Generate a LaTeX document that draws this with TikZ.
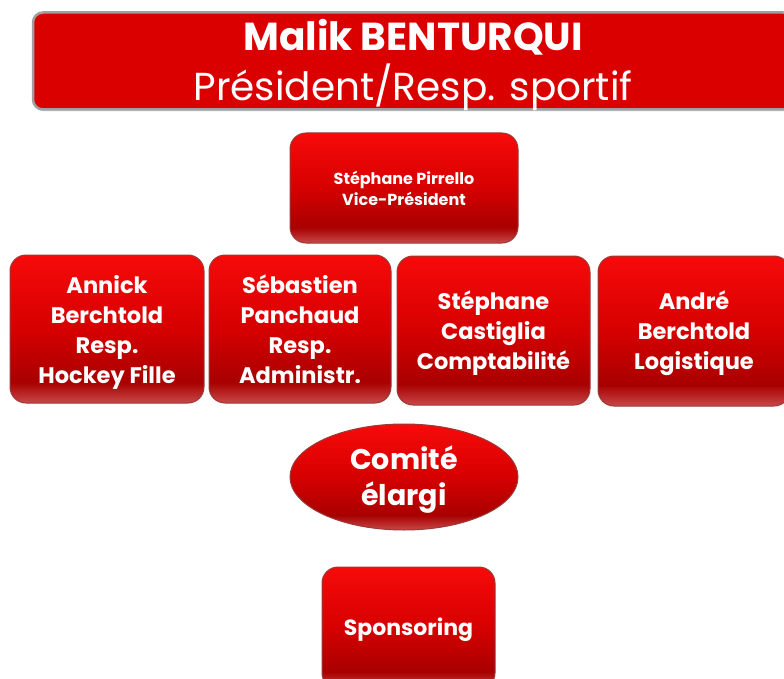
\documentclass[tikz,border=0pt]{standalone}
\usepackage{fontspec}
\setmainfont{Poppins}
\usetikzlibrary{shadows,shapes.geometric}
\definecolor{rtop}{HTML}{F70A0A}
\definecolor{rmid}{HTML}{D60000}
\definecolor{rdark}{HTML}{A80000}
\definecolor{rglow}{HTML}{C84848}
\definecolor{rborder}{HTML}{9A3A3A}
\pgfdeclareverticalshading{redbox}{100bp}{color(0bp)=(rglow); color(25bp)=(rglow); color(32bp)=(rdark); color(50bp)=(rmid); color(75bp)=(rtop); color(100bp)=(rtop)}
\tikzset{
  box/.style={rounded corners=16pt, shading=redbox, draw=rborder, line width=1pt, inner sep=0pt},
  txt/.style={text=white, align=center, inner sep=0pt},
  rowtxt/.style={txt, font=\bfseries\fontsize{22.5}{30}\selectfont},
  titlebox/.style={rounded corners=10pt, fill=red!86!black, draw=gray!75, line width=2.5pt, inner sep=0pt,
     drop shadow={shadow xshift=1pt, shadow yshift=-2pt, fill=gray!50}},
}
\begin{document}
\begin{tikzpicture}[x=1pt,y=-1pt]
\useasboundingbox (0,0) rectangle (784,679);
\node[titlebox, minimum width=760pt, minimum height=97pt] (top) at (413,61) {};
\node[txt, font=\fontsize{39}{50}\selectfont] (topT) at (413,65)
  {\textbf{Malik BENTURQUI}\\Président/Resp. sportif};
\node[box, minimum width=228pt, minimum height=110pt] (vp) at (404,188) {};
\node[txt, font=\bfseries\fontsize{16}{21}\selectfont] (vpT) at (404,188)
  {Stéphane Pirrello\\Vice-Président};
\node[box, minimum width=194pt, minimum height=148pt] (annick) at (107,329) {};
\node[rowtxt] (annickT) at (107,332) {Annick\\Berchtold\\Resp.\\Hockey Fille};
\node[box, minimum width=182pt, minimum height=148pt] (seb) at (300,329) {};
\node[rowtxt] (sebT) at (300,329.5) {Sébastien\\Panchaud\\Resp.\\Administr.};
\node[box, minimum width=193pt, minimum height=149pt] (steph) at (493.5,330.5) {};
\node[rowtxt] (stephT) at (493.5,333) {Stéphane\\Castiglia\\Comptabilité};
\node[box, minimum width=192pt, minimum height=150pt] (andre) at (694,331) {};
\node[rowtxt] (andreT) at (694,333) {André\\Berchtold\\Logistique};
\node[box, ellipse, minimum width=228pt, minimum height=106pt] (comite) at (404,477) {};
\node[txt, font=\bfseries\fontsize{28.5}{36}\selectfont] (comiteT) at (404,480) {Comité\\élargi};
\node[box, minimum width=173pt, minimum height=122pt] (spons) at (408.5,628) {};
\node[txt, font=\bfseries\fontsize{22}{28}\selectfont] (sponsT) at (408.5,630) {Sponsoring};
\end{tikzpicture}
\end{document}
